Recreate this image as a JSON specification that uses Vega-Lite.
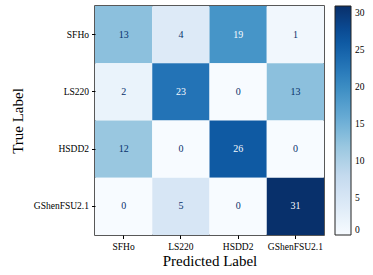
{
  "$schema": "https://vega.github.io/schema/vega-lite/v6.json",
  "autosize": "none",
  "padding": {"left": 95, "top": 6, "right": 49, "bottom": 40},
  "width": 229,
  "height": 229,
  "config": {
    "font": "Liberation Serif",
    "axis": {"labelFont": "Liberation Serif", "titleFont": "Liberation Serif"},
    "legend": {"labelFont": "Liberation Serif"},
    "text": {"font": "Liberation Serif"},
    "view": {"stroke": "#222222", "strokeWidth": 1.5}
  },
  "data": {
    "values": [
      {"true": "SFHo", "pred": "SFHo", "n": 13},
      {"true": "SFHo", "pred": "LS220", "n": 4},
      {"true": "SFHo", "pred": "HSDD2", "n": 19},
      {"true": "SFHo", "pred": "GShenFSU2.1", "n": 1},
      {"true": "LS220", "pred": "SFHo", "n": 2},
      {"true": "LS220", "pred": "LS220", "n": 23},
      {"true": "LS220", "pred": "HSDD2", "n": 0},
      {"true": "LS220", "pred": "GShenFSU2.1", "n": 13},
      {"true": "HSDD2", "pred": "SFHo", "n": 12},
      {"true": "HSDD2", "pred": "LS220", "n": 0},
      {"true": "HSDD2", "pred": "HSDD2", "n": 26},
      {"true": "HSDD2", "pred": "GShenFSU2.1", "n": 0},
      {"true": "GShenFSU2.1", "pred": "SFHo", "n": 0},
      {"true": "GShenFSU2.1", "pred": "LS220", "n": 5},
      {"true": "GShenFSU2.1", "pred": "HSDD2", "n": 0},
      {"true": "GShenFSU2.1", "pred": "GShenFSU2.1", "n": 31}
    ]
  },
  "encoding": {
    "x": {
      "field": "pred", "type": "nominal",
      "sort": ["SFHo", "LS220", "HSDD2", "GShenFSU2.1"],
      "scale": {"paddingInner": 0, "paddingOuter": 0},
      "axis": {
        "title": "Predicted Label", "titleFontSize": 15, "titleFontWeight": "normal",
        "titleColor": "#000", "titlePadding": 2,
        "labelAngle": 0, "labelFontSize": 9.5, "labelColor": "#000", "labelPadding": 3,
        "domain": false, "tickColor": "#000", "tickSize": 3.5
      }
    },
    "y": {
      "field": "true", "type": "nominal",
      "sort": ["SFHo", "LS220", "HSDD2", "GShenFSU2.1"],
      "scale": {"paddingInner": 0, "paddingOuter": 0},
      "axis": {
        "title": "True Label", "titleFontSize": 15, "titleFontWeight": "normal",
        "titleColor": "#000", "titlePadding": 8,
        "labelFontSize": 9.5, "labelColor": "#000", "labelPadding": 3,
        "domain": false, "tickColor": "#000", "tickSize": 3.5
      }
    }
  },
  "layer": [
    {
      "mark": {"type": "rect"},
      "encoding": {
        "color": {
          "field": "n", "type": "quantitative",
          "scale": {
            "domain": [0, 31],
            "range": ["#f7fbff", "#deebf7", "#c6dbef", "#9ecae1", "#6baed6", "#4292c6", "#2171b5", "#08519c", "#08306b"]
          },
          "legend": {
            "title": null,
            "orient": "none",
            "legendX": 240,
            "legendY": 0,
            "direction": "vertical",
            "gradientLength": 229,
            "gradientThickness": 16,
            "gradientStrokeColor": "#222",
            "gradientStrokeWidth": 1,
            "values": [0, 5, 10, 15, 20, 25, 30],
            "labelFontSize": 9.5,
            "labelColor": "#000",
            "labelOffset": 4
          }
        }
      }
    },
    {
      "mark": {"type": "text", "fontSize": 10, "font": "Liberation Serif"},
      "encoding": {
        "text": {"field": "n", "type": "quantitative"},
        "color": {
          "condition": {"test": "datum.n > 15.5", "value": "#f7fbff"},
          "value": "#08306b"
        }
      }
    }
  ]
}
